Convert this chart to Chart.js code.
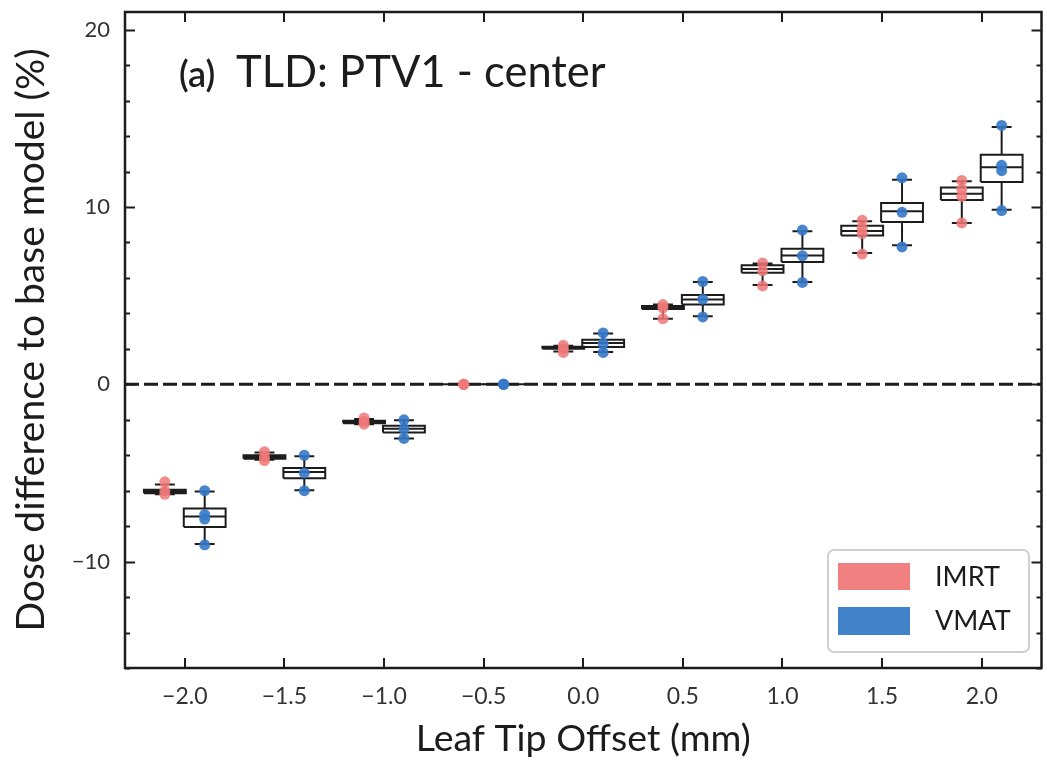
<!DOCTYPE html>
<html>
<head>
<meta charset="utf-8">
<script src="https://cdn.jsdelivr.net/npm/chart.js@4/dist/chart.umd.min.js"></script>
<style>
html,body{margin:0;padding:0;background:#fff;}
#wrap{width:1047px;height:763px;}
</style>
</head>
<body>
<div id="wrap"><canvas id="c" width="1047" height="763"></canvas></div>
<script>
// ---- data ----
const offsets = [-2.0, -1.5, -1.0, -0.5, 0.0, 0.5, 1.0, 1.5, 2.0];
const seriesNames = ['IMRT', 'VMAT'];
const xTickValues = [-2.0, -1.5, -1.0, -0.5, 0.0, 0.5, 1.0, 1.5, 2.0];
const xTickLabels = ['\u22122.0', '\u22121.5', '\u22121.0', '\u22120.5', '0.0', '0.5', '1.0', '1.5', '2.0'];
const yTickValues = [-10, 0, 10, 20];
const yTickLabels = ['\u221210', '0', '10', '20'];

// IMRT box statistics
const imrtQ1  = [-6.15, -4.20, -2.20, 0, 2.00, 4.25, 6.30, 8.40, 10.40];
const imrtMed = [-6.05, -4.10, -2.12, 0, 2.05, 4.35, 6.50, 8.65, 10.75];
const imrtQ3  = [-5.95, -4.00, -2.05, 0, 2.12, 4.42, 6.72, 8.95, 11.10];
const imrtLo  = [-6.20, -4.25, -2.25, 0, 1.85, 3.70, 5.60, 7.40, 9.10];
const imrtHi  = [-5.65, -3.85, -1.95, 0, 2.18, 4.50, 6.82, 9.20, 11.45];
// VMAT box statistics
const vmatQ1  = [-8.05, -5.30, -2.72, 0, 2.10, 4.50, 6.90, 9.15, 11.41];
const vmatMed = [-7.45, -4.95, -2.50, 0, 2.33, 4.78, 7.27, 9.76, 12.24];
const vmatQ3  = [-7.00, -4.72, -2.33, 0, 2.52, 5.04, 7.65, 10.23, 12.95];
const vmatLo  = [-9.00, -5.98, -3.05, 0, 1.82, 3.84, 5.77, 7.84, 9.85];
const vmatHi  = [-6.05, -4.06, -2.03, 0, 2.86, 5.77, 8.63, 11.54, 14.51];
// individual plan values
const imrtPoints = [[-5.5, -6.0, -6.2], [-3.8, -4.1, -4.3], [-1.9, -2.1, -2.25], [0, 0, 0],
  [2.2, 2.0, 1.8], [4.5, 4.3, 3.7], [6.85, 6.4, 5.55], [9.25, 8.8, 8.5, 7.35], [11.5, 11.0, 10.6, 9.1]];
const vmatPoints = [[-6.0, -7.35, -7.6, -9.05], [-4.0, -5.0, -6.0], [-2.0, -2.5, -3.05], [0, 0, 0],
  [2.9, 2.3, 1.8], [5.8, 4.8, 3.8], [8.7, 7.25, 5.75], [11.65, 9.7, 7.75], [14.6, 12.35, 12.05, 9.8]];

// ---- style ----
const FONT = 'Lato, "Open Sans", sans-serif';
const INK = '#1c1c1c';
const imrtColor = 'rgba(240,120,120,0.85)';
const vmatColor = 'rgba(52,120,200,0.9)';
const imrtPatch = '#f08080';
const vmatPatch = '#4282c8';
const shift = 0.1, halfBox = 0.105, halfCap = 0.05;

function boxOutline(sign, q1, med, q3, lo, hi) {
  const pts = [];
  const gap = (x) => pts.push({x: x, y: null});
  offsets.forEach((o, i) => {
    const x = o + sign * shift;
    const L = x - halfBox, R = x + halfBox;
    pts.push({x: L, y: q1[i]}, {x: R, y: q1[i]}, {x: R, y: q3[i]}, {x: L, y: q3[i]}, {x: L, y: q1[i]}); gap(x);
    pts.push({x: L, y: med[i]}, {x: R, y: med[i]}); gap(x);
    pts.push({x: x, y: q3[i]}, {x: x, y: hi[i]}); gap(x);
    pts.push({x: x - halfCap, y: hi[i]}, {x: x + halfCap, y: hi[i]}); gap(x);
    pts.push({x: x, y: q1[i]}, {x: x, y: lo[i]}); gap(x);
    pts.push({x: x - halfCap, y: lo[i]}, {x: x + halfCap, y: lo[i]}); gap(x);
  });
  return pts;
}
function scatterPts(sign, arr) {
  const pts = [];
  offsets.forEach((o, i) => arr[i].forEach(v => pts.push({x: o + sign * shift, y: v})));
  return pts;
}

const X_MIN = -2.3, X_MAX = 2.3, Y_MIN = -16, Y_MAX = 21;

const framePlugin = {
  id: 'frame',
  beforeDraw(chart) {
    const ctx = chart.ctx;
    ctx.save(); ctx.fillStyle = '#fff'; ctx.fillRect(0, 0, chart.width, chart.height); ctx.restore();
  },
  afterDraw(chart) {
    const ctx = chart.ctx, a = chart.chartArea;
    const xs = chart.scales.x, ys = chart.scales.y;
    ctx.save();
    ctx.strokeStyle = INK;
    // ticks (inward)
    ctx.lineWidth = 2;
    ctx.beginPath();
    xTickValues.forEach(v => {
      const px = Math.round(xs.getPixelForValue(v));
      ctx.moveTo(px, a.bottom); ctx.lineTo(px, a.bottom - 10);
      ctx.moveTo(px, a.top); ctx.lineTo(px, a.top + 10);
    });
    for (let v = -16; v <= 21; v += 2) {
      const py = Math.round(ys.getPixelForValue(v)) + 0.5;
      const len = (v % 10 === 0) ? 10 : 5;
      ctx.moveTo(a.left, py); ctx.lineTo(a.left + len, py);
      ctx.moveTo(a.right, py); ctx.lineTo(a.right - len, py);
    }
    ctx.stroke();
    // frame
    ctx.lineWidth = 2.5;
    ctx.strokeRect(a.left, a.top, a.right - a.left, a.bottom - a.top);
    // panel title
    ctx.fillStyle = INK;
    ctx.textBaseline = 'alphabetic';
    ctx.textAlign = 'left';
    ctx.font = '600 36px ' + FONT;
    ctx.fillText('(a)', 179, 87);
    ctx.font = '43.5px ' + FONT;
    ctx.fillText('TLD: PTV1 - center', 236, 87);
    // legend
    const lx = 828, ly = 550, lw = 201, lh = 102;
    ctx.beginPath();
    ctx.roundRect(lx, ly, lw, lh, 6);
    ctx.fillStyle = 'rgba(255,255,255,0.9)';
    ctx.fill();
    ctx.lineWidth = 2; ctx.strokeStyle = '#d0d0d0'; ctx.stroke();
    ctx.fillStyle = imrtPatch; ctx.fillRect(838, 563, 72, 27);
    ctx.fillStyle = vmatPatch; ctx.fillRect(838, 607, 72, 28);
    ctx.fillStyle = INK; ctx.font = '27px ' + FONT; ctx.textBaseline = 'middle';
    ctx.fillText(seriesNames[0], 935, 577);
    ctx.fillText(seriesNames[1], 935, 621);
    ctx.restore();
  }
};

new Chart(document.getElementById('c'), {
  type: 'scatter',
  data: {
    datasets: [
      { label: 'IMRT', data: scatterPts(-1, imrtPoints), backgroundColor: imrtColor, borderWidth: 0, pointRadius: 5.5, order: 0 },
      { label: 'VMAT', data: scatterPts(1, vmatPoints), backgroundColor: vmatColor, borderWidth: 0, pointRadius: 5.5, order: 0 },
      { label: 'IMRT box', data: boxOutline(-1, imrtQ1, imrtMed, imrtQ3, imrtLo, imrtHi), showLine: true, spanGaps: false,
        borderColor: INK, borderWidth: 2, pointRadius: 0, fill: false, order: 1 },
      { label: 'VMAT box', data: boxOutline(1, vmatQ1, vmatMed, vmatQ3, vmatLo, vmatHi), showLine: true, spanGaps: false,
        borderColor: INK, borderWidth: 2, pointRadius: 0, fill: false, order: 1 },
      { label: 'zero', data: [{x: X_MIN, y: 0}, {x: X_MAX, y: 0}], showLine: true, borderColor: INK, borderWidth: 3,
        borderDash: [14, 5], pointRadius: 0, order: 2 }
    ]
  },
  options: {
    responsive: false,
    animation: false,
    events: [],
    layout: { padding: { top: 12, right: 3, left: 0, bottom: 0 } },
    plugins: { legend: { display: false }, tooltip: { enabled: false } },
    scales: {
      x: {
        type: 'linear', min: X_MIN, max: X_MAX,
        grid: { display: false, drawTicks: false },
        border: { display: false },
        afterBuildTicks: s => { s.ticks = xTickValues.map(v => ({ value: v })); },
        afterFit: s => { s.height = 95; s.paddingLeft = 0; s.paddingRight = 0; },
        ticks: { padding: 15, color: '#333', font: { family: FONT, size: 23 },
          callback: (v) => xTickLabels[xTickValues.indexOf(v)] ?? '' },
        title: { display: true, text: 'Leaf Tip Offset (mm)', color: INK, font: { family: FONT, size: 37.5 }, padding: { top: 4, bottom: 2 } }
      },
      y: {
        type: 'linear', min: Y_MIN, max: Y_MAX,
        grid: { display: false, drawTicks: false },
        border: { display: false },
        afterBuildTicks: s => { s.ticks = yTickValues.map(v => ({ value: v })); },
        afterFit: s => { s.width = 125; s.paddingTop = 0; s.paddingBottom = 0; },
        ticks: { padding: 15, color: '#333', font: { family: FONT, size: 22 },
          callback: (v) => yTickLabels[yTickValues.indexOf(v)] ?? '' },
        title: { display: true, text: 'Dose difference to base model (%)', color: INK, font: { family: FONT, size: 39 }, padding: { top: 8, bottom: 4 } }
      }
    }
  },
  plugins: [framePlugin]
});
</script>
</body>
</html>
